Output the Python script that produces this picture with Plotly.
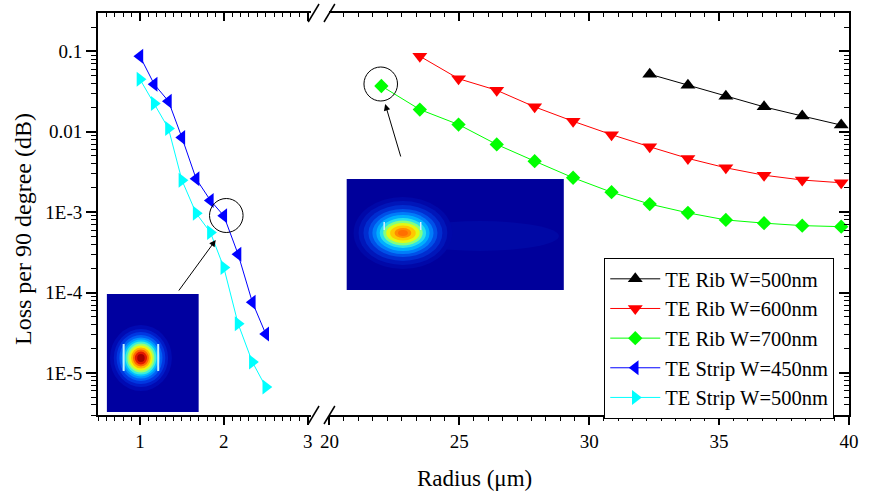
import math
import plotly.graph_objects as go

# ---------------- data ----------------
strip_r = [1.0, 1.17, 1.34, 1.5, 1.67, 1.84, 2.0, 2.17, 2.34, 2.5]
strip450_loss = [0.087, 0.039, 0.024, 0.0085, 0.0026, 0.0014, 0.0009, 0.0003, 7.6e-5, 3.05e-5]
strip500_loss = [0.045, 0.0225, 0.011, 0.0025, 0.00097, 0.00056, 0.000205, 4.1e-5, 1.37e-5, 6.7e-6]

rib_r = [22.0, 23.48, 24.97, 26.44, 27.9, 29.38, 30.86, 32.33, 33.8, 35.26, 36.73, 38.2, 39.7]
rib700_loss = [0.0371, 0.0189, 0.0123, 0.00695, 0.00431, 0.00268, 0.00177, 0.00126,
               0.00098, 0.0008, 0.00073, 0.00068, 0.00066]
rib600_r = rib_r[1:]
rib600_loss = [0.087, 0.0457, 0.0328, 0.0204, 0.0135, 0.0092, 0.0065, 0.00466,
               0.00356, 0.00288, 0.00251, 0.00232]
rib500_r = rib_r[7:]
rib500_loss = [0.052, 0.038, 0.0277, 0.0204, 0.0157, 0.0121]

names = ["TE Rib W=500nm", "TE Rib W=600nm", "TE Rib W=700nm",
         "TE Strip W=450nm", "TE Strip W=500nm"]

left_ticks = [1, 2, 3]
right_ticks = [20, 25, 30, 35, 40]
y_ticks = [0.1, 0.01, 1e-3, 1e-4, 1e-5]
y_ticktext = ["0.1", "0.01", "1E-3", "1E-4", "1E-5"]

# ---------------- geometry ----------------
FONT = "Liberation Serif"
L, T, W, H = 98, 13, 761, 402
WIDTH, HEIGHT = 870, 493


def px(x):
    return (x - L) / W


def py(y):
    return (T + H - y) / H


d1 = (314 - L) / W
d2 = (332.5 - L) / W
left_range = [0.5, 0.5 + 216 / 85.0]
right_range = [20, 40]
y_range = [math.log10(3e-6), math.log10(0.3)]

left_minor = [round(0.5 + 0.1 * k, 3) for k in range(26)]
left_minor = [v for v in left_minor if v not in (1.0, 2.0, 3.0)]
right_minor = [20 + k * 5 / 9 for k in range(37) if k % 9 != 0]
y_minor = [m * 10 ** e for e in range(-6, 0) for m in range(2, 10)]
y_minor = [v for v in y_minor if 3e-6 <= v <= 0.3]

fig = go.Figure()

specs = [
    (names[0], rib500_r, rib500_loss, "#000000", "triangle-up", "x2", 13),
    (names[1], rib600_r, rib600_loss, "#FF0000", "triangle-down", "x2", 13),
    (names[2], rib_r, rib700_loss, "#00FF00", "diamond", "x2", 11),
    (names[3], strip_r, strip450_loss, "#0000FF", "triangle-left", "x", 13),
    (names[4], strip_r, strip500_loss, "#00FFFF", "triangle-right", "x", 13),
]
for name, xs, ys, col, sym, xa, sz in specs:
    fig.add_trace(go.Scatter(
        x=xs, y=ys, name=name, mode="lines+markers", xaxis=xa, yaxis="y",
        line=dict(color=col, width=1),
        marker=dict(symbol=sym, size=sz, color=col, line=dict(width=0)),
    ))

# empty helper traces so the mirrored (top / right) axes get drawn
for xa, ya in (("x3", "y"), ("x4", "y"), ("x2", "y2")):
    fig.add_trace(go.Scatter(x=[None], y=[None], xaxis=xa, yaxis=ya, mode="markers",
                             showlegend=False, hoverinfo="skip"))

common_x = dict(showgrid=False, zeroline=False, showline=True, linecolor="black",
                linewidth=1.8, tickcolor="black", tickwidth=1.5,
                tickfont=dict(family=FONT, size=19, color="black"))

fig.update_layout(
    width=WIDTH, height=HEIGHT,
    margin=dict(l=L, r=WIDTH - L - W, t=T, b=HEIGHT - T - H),
    paper_bgcolor="white", plot_bgcolor="white",
    font=dict(family=FONT, size=19, color="black"),
    xaxis=dict(domain=[0, d1], range=left_range, anchor="y", tickmode="array",
               tickvals=left_ticks, ticks="outside", ticklen=8,
               minor=dict(tickmode="array", tickvals=left_minor, ticks="outside",
                          ticklen=4, tickwidth=1.2, tickcolor="black"),
               **common_x),
    xaxis2=dict(domain=[d2, 1], range=right_range, anchor="y", tickmode="array",
                tickvals=right_ticks, ticks="outside", ticklen=8,
                minor=dict(tickmode="array", tickvals=right_minor, ticks="outside",
                           ticklen=4, tickwidth=1.2, tickcolor="black"),
                **common_x),
    xaxis3=dict(domain=[0, d1], range=left_range, overlaying="x", side="top",
                anchor="y", tickmode="array", tickvals=left_ticks, ticks="inside",
                ticklen=8, showticklabels=False,
                minor=dict(tickmode="array", tickvals=left_minor, ticks="inside",
                           ticklen=4, tickwidth=1.2, tickcolor="black"),
                **common_x),
    xaxis4=dict(domain=[d2, 1], range=right_range, overlaying="x2", side="top",
                anchor="y", tickmode="array", tickvals=right_ticks, ticks="inside",
                ticklen=8, showticklabels=False,
                minor=dict(tickmode="array", tickvals=right_minor, ticks="inside",
                           ticklen=4, tickwidth=1.2, tickcolor="black"),
                **common_x),
    yaxis=dict(type="log", range=y_range, anchor="x", tickmode="array",
               tickvals=y_ticks, ticktext=y_ticktext, ticks="outside", ticklen=10,
               minor=dict(tickmode="array", tickvals=y_minor, ticks="outside",
                          ticklen=5, tickwidth=1.2, tickcolor="black"),
               **common_x),
    yaxis2=dict(type="log", range=y_range, overlaying="y", side="right", anchor="x2",
                tickmode="array", tickvals=y_ticks, ticks="inside", ticklen=10,
                showticklabels=False,
                minor=dict(tickmode="array", tickvals=y_minor, ticks="inside",
                           ticklen=5, tickwidth=1.2, tickcolor="black"),
                **common_x),
    legend=dict(x=px(611), y=py(258), xanchor="left", yanchor="top",
                bordercolor="black", borderwidth=1, bgcolor="white",
                font=dict(family=FONT, size=20.5, color="black"),
                itemwidth=50, tracegroupgap=0),
    showlegend=True,
)

shapes = []

# ---- axis break marks ----
for yc in (T, T + H):
    for (xa, xb) in ((311, 322), (327, 338)):
        shapes.append(dict(type="line", xref="paper", yref="paper",
                           x0=px(xa), y0=py(yc + 9), x1=px(xb), y1=py(yc - 9),
                           line=dict(color="black", width=1.5), layer="above"))


def rect(x0, y0, x1, y1, col):
    return dict(type="rect", xref="paper", yref="paper", x0=px(x0), x1=px(x1),
                y0=py(y1), y1=py(y0), fillcolor=col, line=dict(width=0), layer="below")


def ell(cx, cy, rx, ry, col):
    return dict(type="circle", xref="paper", yref="paper", x0=px(cx - rx), x1=px(cx + rx),
                y0=py(cy + ry), y1=py(cy - ry), fillcolor=col, line=dict(width=0),
                layer="below")


# ---- inset 1 : strip waveguide mode ----
shapes.append(rect(107, 294, 200, 412, "rgb(0,0,160)"))
ring1 = [(33, "rgb(0,10,178)"), (29, "rgb(0,28,200)"), (26, "rgb(0,55,225)"),
         (23, "rgb(0,95,245)"), (20.5, "rgb(0,145,255)"), (18.5, "rgb(0,195,255)"),
         (16.5, "rgb(60,240,215)"), (14.5, "rgb(155,255,110)"), (12.5, "rgb(240,245,10)"),
         (10.5, "rgb(255,180,0)"), (8.5, "rgb(255,100,0)"), (6.5, "rgb(225,25,0)"),
         (4, "rgb(165,0,0)")]
for r, c in ring1:
    shapes.append(ell(141.5, 358, r * 0.95, r, c))
for xs in (124, 159):
    shapes.append(dict(type="line", xref="paper", yref="paper", x0=px(xs), x1=px(xs),
                       y0=py(344), y1=py(371), line=dict(color="rgb(190,240,255)", width=2),
                       layer="below"))

# ---- inset 2 : rib waveguide mode ----
shapes.append(rect(350, 179, 570, 290, "rgb(0,0,155)"))
shapes.append(ell(485, 236, 80, 15, "rgb(0,8,165)"))
ring2 = [(50, 36, "rgb(0,8,168)"), (45, 32, "rgb(0,22,185)"), (40, 28, "rgb(0,45,208)"),
         (35, 24, "rgb(0,80,232)"), (31, 21, "rgb(0,125,250)"), (27, 18, "rgb(0,175,255)"),
         (23.5, 15, "rgb(40,225,235)"), (20, 12.5, "rgb(130,255,130)"),
         (17, 10, "rgb(225,250,20)"), (13, 7.5, "rgb(255,200,0)"), (8.5, 5, "rgb(255,140,0)"),
         (5, 3, "rgb(255,110,0)")]
for rx, ry, c in ring2:
    shapes.append(ell(407, 233, rx, ry, c))
for xs in (388, 425):
    shapes.append(dict(type="line", xref="paper", yref="paper", x0=px(xs), x1=px(xs),
                       y0=py(222), y1=py(230), line=dict(color="rgb(210,240,255)", width=1.5),
                       layer="below"))

# ---- highlight circles ----
for cx, cy in ((228, 215.5), (384.5, 84)):
    shapes.append(dict(type="circle", xref="paper", yref="paper",
                       x0=px(cx - 17), x1=px(cx + 17), y0=py(cy + 17), y1=py(cy - 17),
                       line=dict(color="black", width=1), layer="above"))

fig.update_layout(shapes=shapes)

annotations = [
    dict(x=px(217.3), y=py(240), xref="paper", yref="paper", text="", showarrow=True,
         ax=-38, ay=52, arrowhead=2, arrowsize=1.3, arrowwidth=1, arrowcolor="black"),
    dict(x=px(389), y=py(104), xref="paper", yref="paper", text="", showarrow=True,
         ax=16, ay=54, arrowhead=2, arrowsize=1.3, arrowwidth=1, arrowcolor="black"),
    dict(x=px(22), y=py(229), xref="paper", yref="paper", text="Loss per 90 degree (dB)",
         textangle=-90, showarrow=False, xanchor="center", yanchor="middle",
         font=dict(family=FONT, size=24, color="black")),
    dict(x=px(480), y=py(478), xref="paper", yref="paper", text="Radius (μm)",
         showarrow=False, xanchor="center", yanchor="middle",
         font=dict(family=FONT, size=23, color="black")),
]
fig.update_layout(annotations=annotations)

fig.write_html("out.html", config={"displayModeBar": False},
               post_script="document.body.style.margin='0';"
                           "document.documentElement.style.overflow='hidden';")
